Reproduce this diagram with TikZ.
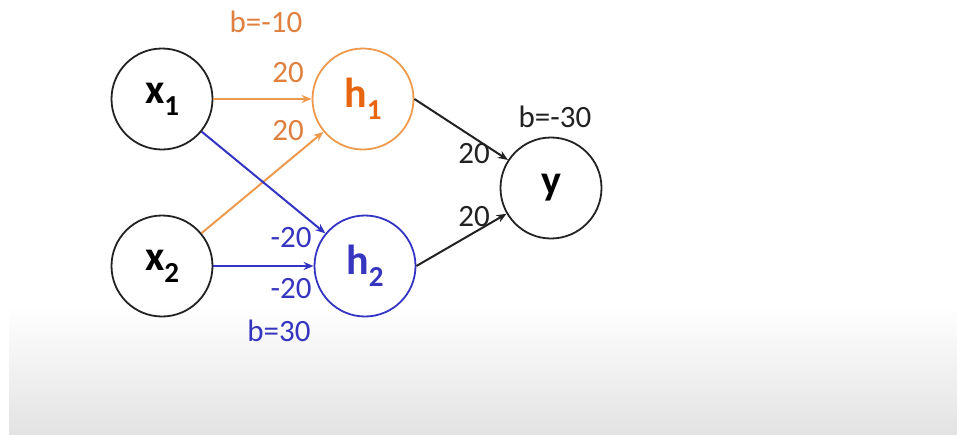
\documentclass[tikz,border=0pt]{standalone}
\usepackage{fontspec}
\setmainfont{Carlito}
\usetikzlibrary{arrows.meta}
\definecolor{orl}{HTML}{EE9A4E}
\definecolor{ort}{HTML}{E0803F}
\definecolor{orh}{HTML}{E8650F}
\definecolor{bl}{HTML}{3333C4}
\definecolor{blt}{HTML}{3535C0}
\definecolor{bk}{HTML}{222222}
\definecolor{gbot}{HTML}{E3E3E3}
\begin{document}
\begin{tikzpicture}[x=1pt,y=-1pt,
  neuron/.style={circle,draw,line width=1.8pt,minimum size=101pt,inner sep=0pt,font=\fontsize{42}{42}\selectfont\bfseries},
  conn/.style={line width=2pt,-{Stealth[length=10pt,width=8pt]}},
  lbl/.style={font=\fontsize{31}{31}\selectfont,inner sep=0pt}]
\useasboundingbox (0,0) rectangle (957,434);
\fill[white] (0,0) rectangle (957,434);
\shade[top color=white,bottom color=gbot] (9,305) rectangle (957,434);
\newcommand{\sub}[1]{\raisebox{-0.28em}{\fontsize{29}{29}\selectfont #1}}
\node[neuron,draw=bk,text=black] (x1) at (162,99) {x\sub{1}};
\node[neuron,draw=bk,text=black] (x2) at (162,266) {x\sub{2}};
\node[neuron,draw=orl,text=orh] (h1) at (363,99) {h\sub{1}};
\node[neuron,draw=bl,text=blt] (h2) at (365,266) {h\sub{2}};
\node[neuron,draw=bk,text=black] (y) at (551,188) {y};
\draw[conn,draw=orl,fill=ort] (x1) -- (h1);
\draw[conn,draw=orl,fill=ort] (x2) -- (h1);
\draw[conn,draw=bl] (x1) -- (h2);
\draw[conn,draw=bl] (x2) -- (h2);
\draw[conn,draw=bk] (h1.east) -- (y);
\draw[conn,draw=bk] (h2.east) -- (y);
\node[lbl,text=ort] (b1) at (266,22) {b=-10};
\node[lbl,text=ort] (w11) at (288,73) {20};
\node[lbl,text=ort] (w21) at (288,131) {20};
\node[lbl,text=blt] (w12) at (291,238) {-20};
\node[lbl,text=blt] (w22) at (291,289) {-20};
\node[lbl,text=blt] (b2) at (279,331) {b=30};
\node[lbl,text=bk] (b3) at (555,117) {b=-30};
\node[lbl,text=bk] (v1) at (474,154) {20};
\node[lbl,text=bk] (v2) at (474,217) {20};
\end{tikzpicture}
\end{document}
